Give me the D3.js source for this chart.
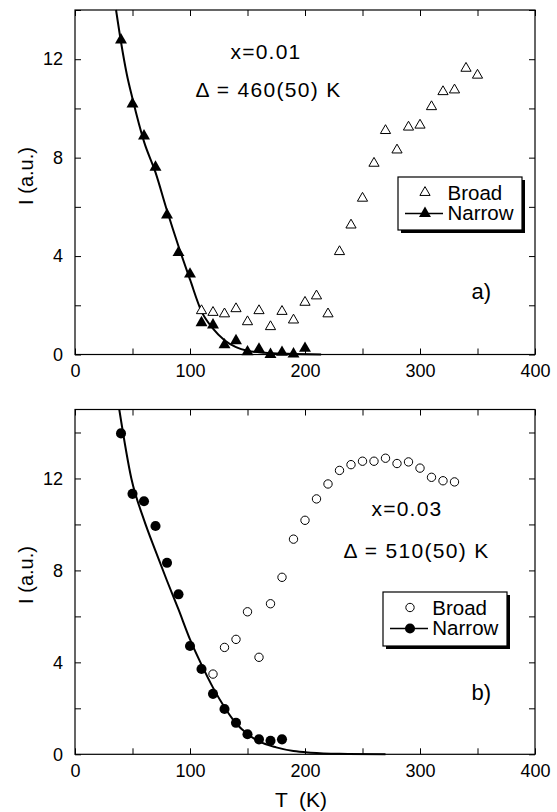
<!DOCTYPE html>
<html>
<head>
<meta charset="utf-8">
<script src="https://cdn.jsdelivr.net/npm/d3@7"></script>
<style>
  body { margin: 0; background: #fff; }
  svg { display: block; }
  text { font-family: 'Liberation Sans', Arial, Helvetica, sans-serif; fill: #000; }
</style>
</head>
<body>
<div id="chart"></div>
<script>
// ---- data, panel a (x=0.01) ----
var narrowTA = [40, 50, 60, 70, 80, 90, 100, 110, 120, 130, 140, 150, 160, 170, 180, 190, 200];
var narrowA  = [12.78, 10.18, 8.88, 7.61, 5.67, 4.14, 3.27, 1.29, 1.2, 0.39, 0.56, 0.11, 0.22, 0.0, 0.09, 0.02, 0.25];
var broadTA  = [110, 120, 130, 140, 150, 160, 170, 180, 190, 200, 210, 220, 230, 240, 250, 260, 270, 280, 290, 300, 310, 320, 330, 340, 350];
var broadA   = [1.78, 1.71, 1.65, 1.86, 1.33, 1.78, 1.13, 1.75, 1.4, 2.12, 2.38, 1.65, 4.18, 5.26, 6.35, 7.77, 9.1, 8.31, 9.24, 9.32, 10.07, 10.68, 10.75, 11.63, 11.35];
// fit line
var fitTA    = [35.7, 40, 45, 50, 60, 70, 80, 90, 100, 110, 120, 130, 140, 150, 165, 185, 214];
var fitA     = [14, 12.7, 11.4, 10.4, 8.65, 7.4, 5.85, 4.4, 3.05, 1.75, 1.05, 0.58, 0.3, 0.15, 0.07, 0.03, 0];

// ---- data, panel b (x=0.03) ----
var narrowTB = [40, 50, 60, 70, 80, 90, 100, 110, 120, 130, 140, 150, 160, 170, 180];
var narrowB  = [13.96, 11.33, 11.01, 9.93, 8.33, 6.96, 4.71, 3.71, 2.63, 1.97, 1.37, 0.87, 0.65, 0.59, 0.65];
var broadTB  = [120, 130, 140, 150, 160, 170, 180, 190, 200, 210, 220, 230, 240, 250, 260, 270, 280, 290, 300, 310, 320, 330];
var broadB   = [3.49, 4.65, 5.0, 6.2, 4.22, 6.55, 7.7, 9.36, 10.18, 11.11, 11.76, 12.35, 12.6, 12.75, 12.75, 12.88, 12.65, 12.72, 12.45, 12.05, 11.9, 11.85];
var fitTB    = [38.5, 49, 60, 70, 80, 90, 100, 110, 120, 130, 140, 150, 160, 175, 190, 205, 230, 270];
var fitB     = [15, 12, 10.2, 8.85, 7.55, 6.3, 5.0, 3.9, 2.9, 2.05, 1.35, 0.88, 0.56, 0.3, 0.14, 0.07, 0.02, 0];

var xTickLabels = [0, 100, 200, 300, 400];
var yTickLabels = [0, 4, 8, 12];

var width = 557, height = 812;
var svg = d3.select('#chart').append('svg')
  .attr('width', width)
  .attr('height', height);

var x = d3.scaleLinear().domain([0, 400]).range([75, 535]);

function drawPanel(p) {
  var y = d3.scaleLinear().domain([0, p.yMax]).range([p.bottom, p.top]);
  var g = svg.append('g');
  var minorX = d3.range(0, 401, 50);
  var minorY = d3.range(0, p.yMax + 0.1, 2);

  // bottom axis
  g.append('g')
    .attr('transform', `translate(0, ${p.bottom})`)
    .call(d3.axisBottom(x).tickValues(minorX).tickSizeInner(-6).tickSizeOuter(0).tickPadding(10)
      .tickFormat(d => xTickLabels.indexOf(d) >= 0 ? d : ''));
  // top axis
  g.append('g')
    .attr('transform', `translate(0, ${p.top})`)
    .call(d3.axisTop(x).tickValues(minorX).tickSizeInner(-6).tickSizeOuter(0).tickFormat(''));
  // left axis
  g.append('g')
    .attr('transform', 'translate(75, 0)')
    .call(d3.axisLeft(y).tickValues(minorY).tickSizeInner(-6).tickSizeOuter(0).tickPadding(12)
      .tickFormat(d => yTickLabels.indexOf(d) >= 0 ? d : ''));
  // right axis
  g.append('g')
    .attr('transform', 'translate(535, 0)')
    .call(d3.axisRight(y).tickValues(minorY).tickSizeInner(-6).tickSizeOuter(0).tickFormat(''));

  g.selectAll('.domain').remove();
  g.selectAll('.tick line').attr('stroke', '#000').attr('stroke-width', 1);
  g.selectAll('.tick text').attr('font-size', 18).style('font-family', "'Liberation Sans', Arial, sans-serif");

  // frame
  g.append('rect')
    .attr('x', 75).attr('y', p.top)
    .attr('width', 460).attr('height', p.bottom - p.top)
    .attr('fill', 'none').attr('stroke', '#000').attr('stroke-width', 1.2);

  // fit curve
  var fit = p.fitT.map((t, i) => [t, p.fit[i]]);
  g.append('path')
    .datum(fit)
    .attr('fill', 'none')
    .attr('stroke', '#000')
    .attr('stroke-width', 2)
    .attr('d', d3.line().x(d => x(d[0])).y(d => y(d[1])).curve(d3.curveMonotoneX));

  // broad (open)
  g.selectAll(null).data(p.broadT.map((t, i) => [t, p.broad[i]]))
    .enter().append('path')
    .attr('transform', d => `translate(${x(d[0])}, ${y(d[1])})`)
    .attr('d', d3.symbol(p.shape, p.openSize))
    .attr('fill', '#fff')
    .attr('stroke', '#000')
    .attr('stroke-width', 1);

  // narrow (filled)
  g.selectAll(null).data(p.narrowT.map((t, i) => [t, p.narrow[i]]))
    .enter().append('path')
    .attr('transform', d => `translate(${x(d[0])}, ${y(d[1])})`)
    .attr('d', d3.symbol(p.shape, p.fillSize))
    .attr('fill', '#000');

  // y label
  g.append('text')
    .attr('transform', `translate(33, ${p.labelY}) rotate(-90)`)
    .attr('text-anchor', 'middle')
    .attr('font-size', 20)
    .text('I (a.u.)');

  // annotations
  g.append('text')
    .attr('x', p.noteX1).attr('y', p.noteY1)
    .attr('text-anchor', 'middle').attr('font-size', 21)
    .attr('letter-spacing', 1.2)
    .text(p.comp);
  g.append('text')
    .attr('x', p.noteX2).attr('y', p.noteY2)
    .attr('text-anchor', 'middle').attr('font-size', 21)
    .attr('letter-spacing', 1.3)
    .text(p.gap);
  g.append('text')
    .attr('x', 471.5).attr('y', p.tagY)
    .attr('font-size', 22)
    .text(p.tag);

  // legend
  var L = p.legend;
  g.append('rect')
    .attr('x', L.x + 3).attr('y', L.y + 3)
    .attr('width', 124).attr('height', L.h)
    .attr('fill', '#000');
  g.append('rect')
    .attr('x', L.x).attr('y', L.y)
    .attr('width', 124).attr('height', L.h)
    .attr('fill', '#fff').attr('stroke', '#000').attr('stroke-width', 1.2);
  g.append('path')
    .attr('transform', `translate(${L.sym}, ${L.y + 15.5})`)
    .attr('d', d3.symbol(p.shape, p.openSize))
    .attr('fill', '#fff').attr('stroke', '#000').attr('stroke-width', 1);
  g.append('line')
    .attr('x1', L.x + 7).attr('x2', L.x + 45)
    .attr('y1', L.y + 36.5).attr('y2', L.y + 36.5)
    .attr('stroke', '#000').attr('stroke-width', 1.5);
  g.append('path')
    .attr('transform', `translate(${L.sym}, ${L.y + 36.5})`)
    .attr('d', d3.symbol(p.shape, p.fillSize))
    .attr('fill', '#000');
  g.append('text')
    .attr('x', L.tx).attr('y', L.y + 22.5)
    .attr('font-size', 20.5)
    .text('Broad');
  g.append('text')
    .attr('x', L.tx).attr('y', L.y + 43)
    .attr('font-size', 20.5)
    .text('Narrow');
}

drawPanel({
  top: 10, bottom: 354.5, yMax: 14,
  narrowT: narrowTA, narrow: narrowA, broadT: broadTA, broad: broadA,
  fitT: fitTA, fit: fitA,
  shape: d3.symbolTriangle, openSize: 45, fillSize: 62,
  labelY: 176,
  comp: 'x=0.01', noteX1: 266, noteY1: 58.5,
  gap: '\u0394 = 460(50) K', noteX2: 268.5, noteY2: 96.5,
  tag: 'a)', tagY: 298.5,
  legend: { x: 398, y: 177, h: 53, sym: 425, tx: 447.5 }
});

drawPanel({
  top: 409.5, bottom: 754.3, yMax: 15,
  narrowT: narrowTB, narrow: narrowB, broadT: broadTB, broad: broadB,
  fitT: fitTB, fit: fitB,
  shape: d3.symbolCircle, openSize: 55, fillSize: 80,
  labelY: 575,
  comp: 'x=0.03', noteX1: 407, noteY1: 516,
  gap: '\u0394 = 510(50) K', noteX2: 416.5, noteY2: 558.3,
  tag: 'b)', tagY: 700,
  legend: { x: 383, y: 592, h: 54, sym: 410, tx: 432.3 }
});

// x axis title
svg.append('text')
  .attr('x', 301).attr('y', 806.5)
  .attr('text-anchor', 'middle')
  .attr('font-size', 21)
  .text('T  (K)')
  .style('white-space', 'pre');
</script>
</body>
</html>
